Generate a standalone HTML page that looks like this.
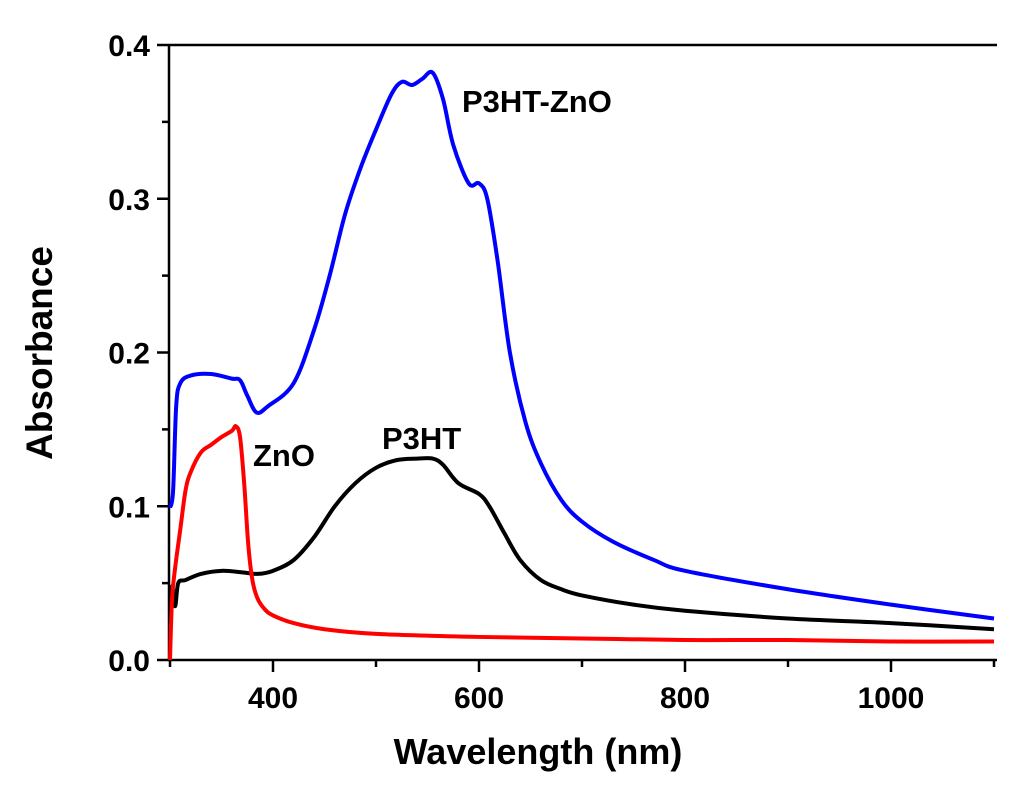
<!DOCTYPE html>
<html><head><meta charset="utf-8"><style>
body{margin:0;background:#fff;}
svg text{font-family:"Liberation Sans",Arial,sans-serif;font-weight:bold;fill:#000;}
</style></head><body>
<svg id="chart" width="1024" height="802"></svg>
<script>
const xTicks=[400,600,800,1000];
const yTicks=[0.0,0.1,0.2,0.3,0.4];
const yTickLabels=["0.0","0.1","0.2","0.3","0.4"];
const blueWl=[300,303,306,310,320,340,360,368,375,384,395,420,440,455,470,485,500,515,525,535,545,555,565,575,590,600,608,618,630,645,660,680,700,730,770,800,900,1000,1100];
const blueVal=[0.099,0.11,0.165,0.18,0.185,0.186,0.183,0.182,0.172,0.161,0.165,0.18,0.215,0.25,0.29,0.32,0.345,0.368,0.376,0.374,0.378,0.382,0.365,0.335,0.31,0.31,0.3,0.26,0.2,0.155,0.128,0.104,0.09,0.077,0.065,0.058,0.046,0.036,0.027];
const blackWl=[300,302,305,308,315,330,350,370,385,400,420,440,460,480,500,520,540,555,565,580,600,610,625,640,660,680,700,750,800,900,1000,1100];
const blackVal=[0.03,0.048,0.035,0.05,0.052,0.056,0.058,0.057,0.056,0.058,0.065,0.08,0.1,0.115,0.125,0.13,0.131,0.131,0.127,0.115,0.108,0.1,0.082,0.065,0.052,0.046,0.042,0.036,0.032,0.027,0.024,0.02];
const redWl=[300,302,305,310,315,320,330,340,350,360,364,368,372,376,380,385,392,400,420,450,500,600,700,800,900,1000,1100];
const redVal=[0.0,0.04,0.06,0.085,0.11,0.122,0.135,0.14,0.145,0.149,0.152,0.145,0.115,0.075,0.052,0.04,0.033,0.029,0.024,0.02,0.017,0.015,0.014,0.013,0.013,0.012,0.012];

const NS="http://www.w3.org/2000/svg";
const svg=document.getElementById('chart');
const X0=170,XPX=1.03,Y0=660,YPX=1537.5,L=169,R=997,T=45,B=660;
const sx=w=>X0+(w-300)*XPX, sy=v=>Y0-v*YPX;
function mk(tag,attrs,parent){const e=document.createElementNS(NS,tag);for(const k in attrs)e.setAttribute(k,attrs[k]);(parent||svg).appendChild(e);return e;}
function path(wl,val){const p=wl.map((w,i)=>[sx(w),sy(val[i])]);let d=`M${p[0][0]},${p[0][1]}`;for(let i=0;i<p.length-1;i++){const p0=p[Math.max(0,i-1)],p1=p[i],p2=p[i+1],p3=p[Math.min(p.length-1,i+2)];d+=` C${p1[0]+(p2[0]-p0[0])/6},${p1[1]+(p2[1]-p0[1])/6} ${p2[0]-(p3[0]-p1[0])/6},${p2[1]-(p3[1]-p1[1])/6} ${p2[0]},${p2[1]}`;}return d;}

const frame=mk('path',{d:`M${L},${T}H${R}M${L},${T}V${B}H${R}`,stroke:'#000','stroke-width':2.5,fill:'none'});


for(let w=300;w<=1100;w+=100){const t=mk('line',{x1:sx(w),x2:sx(w),y1:B,y2:B+(w%200===0?12:7),stroke:'#000','stroke-width':2.5});

}
xTicks.forEach(w=>{const t=mk('text',{x:sx(w),y:708,'text-anchor':'middle','font-size':30});t.textContent=w;

});
for(let v=0;v<=0.401;v+=0.05){const t=mk('line',{x1:L,x2:L-(Math.round(v*100)%10===0?12:7),y1:sy(v),y2:sy(v),stroke:'#000','stroke-width':2.5});

}
yTicks.forEach((v,i)=>{const t=mk('text',{x:150,y:sy(v)+11,'text-anchor':'end','font-size':30});t.textContent=yTickLabels[i];

});
const xt=mk('text',{x:538,y:764,'text-anchor':'middle','font-size':36});xt.textContent='Wavelength (nm)';


const yt=mk('text',{x:52,y:353,'text-anchor':'middle','font-size':37,transform:'rotate(-90 52 353)'});yt.textContent='Absorbance';



const sb=mk('path',{d:path(blackWl,blackVal),stroke:'#000','stroke-width':4,fill:'none'});


const sr=mk('path',{d:path(redWl,redVal),stroke:'#f00','stroke-width':4,fill:'none'});


const su=mk('path',{d:path(blueWl,blueVal),stroke:'#00f','stroke-width':4,fill:'none'});



const l1=mk('text',{x:462,y:112,'font-size':31});l1.textContent='P3HT-ZnO';


const l2=mk('text',{x:382,y:449,'font-size':31});l2.textContent='P3HT';


const l3=mk('text',{x:253,y:466,'font-size':31});l3.textContent='ZnO';


</script>
</body></html>
